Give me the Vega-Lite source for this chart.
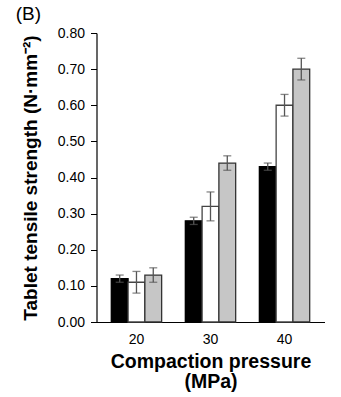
{
  "$schema": "https://vega.github.io/schema/vega-lite/v6.json",
  "width": 228,
  "height": 289,
  "padding": {"left": 15.5, "top": 5, "right": 3, "bottom": 3},
  "background": "white",
  "title": {"text": "(B)", "anchor": "start", "frame": "bounds", "fontSize": 19, "fontWeight": "normal", "font": "Liberation Sans", "color": "black", "offset": 2, "dx": -5.5},
  "config": {
    "view": {"stroke": null},
    "font": "Liberation Sans",
    "axis": {"grid": false, "domainColor": "black", "tickColor": "black", "labelColor": "black", "titleColor": "black", "labelFont": "Liberation Sans", "titleFont": "Liberation Sans"},
    "axisY": {"labelOverlap": false}
  },
  "data": {
    "values": [
      {"pressure": "20", "group": "A", "mean": 0.12, "lo": 0.11, "hi": 0.13},
      {"pressure": "20", "group": "B", "mean": 0.11, "lo": 0.08, "hi": 0.14},
      {"pressure": "20", "group": "C", "mean": 0.13, "lo": 0.11, "hi": 0.15},
      {"pressure": "30", "group": "A", "mean": 0.28, "lo": 0.27, "hi": 0.29},
      {"pressure": "30", "group": "B", "mean": 0.32, "lo": 0.28, "hi": 0.36},
      {"pressure": "30", "group": "C", "mean": 0.44, "lo": 0.42, "hi": 0.46},
      {"pressure": "40", "group": "A", "mean": 0.43, "lo": 0.42, "hi": 0.44},
      {"pressure": "40", "group": "B", "mean": 0.60, "lo": 0.57, "hi": 0.63},
      {"pressure": "40", "group": "C", "mean": 0.70, "lo": 0.67, "hi": 0.73}
    ]
  },
  "encoding": {
    "x": {
      "field": "pressure", "type": "nominal",
      "scale": {"paddingInner": 0.32, "paddingOuter": 0.2},
      "axis": {"labelAngle": 0, "ticks": false, "labelFontSize": 14, "labelPadding": 10, "domainWidth": 1.2,
               "title": ["Compaction pressure", "(MPa)"], "titleFontSize": 19.5, "titleFontWeight": "bold", "titleLineHeight": 20, "titlePadding": 6}
    },
    "xOffset": {"field": "group", "type": "nominal", "scale": {"paddingInner": 0, "paddingOuter": 0}}
  },
  "layer": [
    {
      "mark": {"type": "bar", "strokeWidth": 1.3},
      "encoding": {
        "y": {
          "field": "mean", "type": "quantitative",
          "scale": {"domain": [0, 0.8], "nice": false},
          "axis": {"values": [0, 0.1, 0.2, 0.3, 0.4, 0.5, 0.6, 0.7, 0.8], "format": ".2f", "labelFontSize": 14, "labelOverlap": false, "tickSize": 6, "labelPadding": 6, "domainWidth": 1.2,
                   "title": "Tablet tensile strength (N·mm⁻²)", "titleFontSize": 19, "titleFontWeight": "bold", "titlePadding": 17}
        },
        "fill": {"field": "group", "type": "nominal", "scale": {"domain": ["A", "B", "C"], "range": ["#000000", "#ffffff", "#c6c6c6"]}, "legend": null},
        "stroke": {"field": "group", "type": "nominal", "scale": {"domain": ["A", "B", "C"], "range": ["#000000", "#444444", "#333333"]}, "legend": null}
      }
    },
    {
      "mark": {"type": "rule", "color": "#555555", "strokeWidth": 1.3},
      "encoding": {
        "y": {"field": "lo", "type": "quantitative", "axis": {"values": [0, 0.1, 0.2, 0.3, 0.4, 0.5, 0.6, 0.7, 0.8], "format": ".2f", "labelOverlap": false}},
        "y2": {"field": "hi"}
      }
    },
    {
      "mark": {"type": "tick", "orient": "horizontal", "color": "#555555", "thickness": 1.3, "size": 8},
      "encoding": {"y": {"field": "lo", "type": "quantitative", "axis": {"values": [0, 0.1, 0.2, 0.3, 0.4, 0.5, 0.6, 0.7, 0.8], "format": ".2f", "labelOverlap": false}}}
    },
    {
      "mark": {"type": "tick", "orient": "horizontal", "color": "#555555", "thickness": 1.3, "size": 8},
      "encoding": {"y": {"field": "hi", "type": "quantitative", "axis": {"values": [0, 0.1, 0.2, 0.3, 0.4, 0.5, 0.6, 0.7, 0.8], "format": ".2f", "labelOverlap": false}}}
    }
  ]
}
